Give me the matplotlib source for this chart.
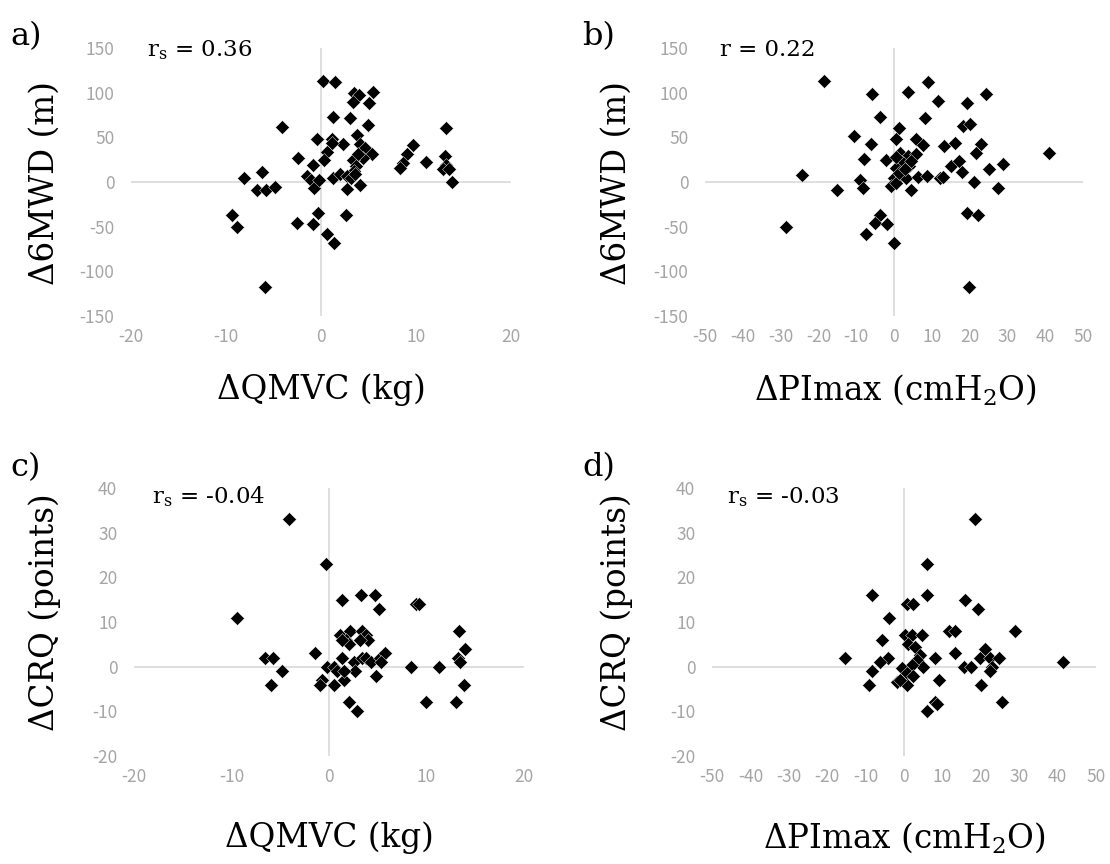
import matplotlib
matplotlib.use("Agg")
import matplotlib.pyplot as plt

# ---------------- data ----------------
qmvc_a = [0.2, 1.5, 5.5, 3.5, 4.0, 3.4, 5.0, 1.3, 3.1, 4.9, -4.1, 13.2, -0.4, 1.2, 3.8, 2.3,
          1.2, 4.1, 4.6, 5.4, 4.4, 3.4, 3.9, 3.7, 3.5, 9.7, 9.1, 8.6, 8.3, 11.1, 13.1, 13.2,
          12.8, 13.5, 13.8, -2.4, 0.6, 0.3, -0.8, -6.2, -8.1, -6.7, -5.8, -4.8, -1.5, -1.1,
          -0.7, -0.2, 1.3, 2.0, 2.7, 3.2, 3.6, 4.1, 2.7, -9.4, -8.8, -0.35, 2.6, -2.5, -0.8,
          0.6, 1.4, -5.9]
mwd_a = [113, 112, 101, 100, 97, 90, 88, 73, 72, 64, 62, 60, 48, 48, 53, 42,
         44, 42, 38, 31, 27, 25, 31, 18, 12, 41, 31, 21, 16, 22, 29, 19,
         15, 14, 0, 27, 34, 25, 19, 11, 4, -9, -9, -6, 7, 2,
         -7, 2, 5, 9, 7, 5, 9, -3, -8, -37, -50, -35, -37, -46, -47,
         -58, -68, -117]

pimax_b = [-18.4, -5.7, 3.7, 9.1, 11.7, 19.2, 24.4, -3.8, 8.1, 18.3, 20.0, 1.3, -10.7, -6.2,
           0.4, 5.9, 7.7, 13.2, 16.1, 23.1, 21.8, 41.0, -8.0, -2.0, 1.5, 3.7, 5.9, 2.4, 0.6,
           4.1, -0.1, 1.9, 3.3, -0.7, 0.6, 4.6, 6.4, 8.6, 12.1, 13.0, 15.2, 17.2, 18.1, 21.1,
           25.2, 28.9, 27.5, -24.4, -8.9, -8.2, -15.1, -3.8, -4.9, -1.9, -7.3, -0.1, -28.7,
           19.3, 22.3, 19.9, 1.2, 2.8, 0.5, 4.5]
mwd_b = [113, 98, 101, 112, 91, 88, 98, 73, 72, 63, 65, 61, 52, 42,
         48, 48, 41, 40, 44, 42, 32, 32, 26, 25, 32, 29, 31, 21, 16,
         18, 4, 8, 4, -5, -1, -9, 6, 7, 4, 6, 18, 23, 11, 0,
         15, 20, -7, 8, 2, -7, -9, -37, -46, -47, -58, -68, -50,
         -35, -37, -117, 10, 14, 28, 24]

qmvc_c = [-4.1, -0.3, -9.4, 1.3, 3.3, 4.7, 5.1, 8.9, 9.2, 13.3, 13.9, 13.2, 13.4, 13.8, 13.0,
          9.9, 8.4, 11.3, -6.6, -5.7, -4.8, -5.9, -1.4, -0.2, 0.55, -0.7, -0.9, 0.55, 1.5,
          2.1, 2.9, 1.3, 1.1, 2.2, 1.7, 2.0, 1.35, 3.4, 3.8, 4.0, 3.2, 2.55, 3.4, 3.8, 2.7,
          4.3, 4.8, 5.2, 5.7, 5.3, 0.8, 1.5]
crq_c = [33, 23, 11, 15, 16, 16, 13, 14, 14, 8, 4, 2, 1, -4, -8,
         -8, 0, 0, 2, 2, -1, -4, 3, 0, 0, -3, -4, -4, -3,
         -8, -10, 2, 7, 8, 6, 5, 6, 8, 7, 6, 6, 1, 2, 2, -1,
         1, -2, 2, 3, 1, -1, -1]

pimax_d = [18.5, 5.9, -8.3, 6.1, 0.7, 2.3, 16.0, 19.3, -4.0, 29.0, 11.6, 13.3, -5.7, -15.4,
           -4.1, -6.3, -8.3, -9.0, 41.3, 8.1, 13.3, 15.5, 17.4, 9.2, 20.0, 25.4, 8.1, 8.5,
           6.1, 21.2, 19.8, 22.4, 24.7, 22.9, 22.4, 0.3, 2.0, 4.8, 1.1, 2.9, 4.2, 3.3, 5.0,
           2.0, -0.6, 0.7, -1.9, 0.7, 2.4, -1.0]
crq_d = [33, 23, 16, 16, 14, 14, 15, 13, 11, 8, 8, 8, 6, 2,
         2, 1, -1, -4, 1, 2, 3, 0, 0, -3, -4, -8, -8, -8.3,
         -10, 4, 2, 2, 2, 0, -1, 7, 7, 7, 5, 4.5, 2.6, 1.5, 0,
         0.4, -0.4, -1.5, -3.4, -4, -2.2, -3]

ticks_qmvc = [-20, -10, 0, 10, 20]
ticks_pimax = [-50, -40, -30, -20, -10, 0, 10, 20, 30, 40, 50]
ticks_mwd = [-150, -100, -50, 0, 50, 100, 150]
ticks_crq = [-20, -10, 0, 10, 20, 30, 40]

# ---------------- style ----------------
plt.rcParams['axes.unicode_minus'] = False
plt.rcParams['mathtext.fontset'] = 'dejavuserif'
SERIF = ['DejaVu Serif']
TICKFONT = ['Noto Sans CJK JP', 'DejaVu Sans']
TICKCOL = '#a5a5a5'
LINECOL = '#d9d9d9'

W, H = 1110, 864
fig = plt.figure(figsize=(W / 100, H / 100), dpi=100)


def box(x0, x1, y_top, y_bot):
    return [x0 / W, 1 - y_bot / H, (x1 - x0) / W, (y_bot - y_top) / H]


def px(x, y):
    return x / W, 1 - y / H


panels = [
    dict(rect=box(131, 511, 48, 316), x=qmvc_a, y=mwd_a, xt=ticks_qmvc, yt=ticks_mwd,
         xl='ΔQMVC (kg)', yl='Δ6MWD (m)', lab='a)', labpos=(10, 37),
         ann=r'r$_\mathregular{s}$ = 0.36', annpos=(147, 50),
         xlpos=(321, 390), ylpos=(45, 183)),
    dict(rect=box(705, 1083, 48, 316), x=pimax_b, y=mwd_b, xt=ticks_pimax, yt=ticks_mwd,
         xl=r'ΔPImax (cmH$_\mathregular{2}$O)', yl='Δ6MWD (m)', lab='b)', labpos=(582, 37),
         ann='r = 0.22', annpos=(720, 50),
         xlpos=(895, 390), ylpos=(617, 183)),
    dict(rect=box(134, 524, 488, 756), x=qmvc_c, y=crq_c, xt=ticks_qmvc, yt=ticks_crq,
         xl='ΔQMVC (kg)', yl='ΔCRQ (points)', lab='c)', labpos=(10, 468),
         ann=r'r$_\mathregular{s}$ = -0.04', annpos=(152, 497),
         xlpos=(329, 838), ylpos=(45, 612)),
    dict(rect=box(712, 1096, 488, 756), x=pimax_d, y=crq_d, xt=ticks_pimax, yt=ticks_crq,
         xl=r'ΔPImax (cmH$_\mathregular{2}$O)', yl='ΔCRQ (points)', lab='d)', labpos=(582, 468),
         ann=r'r$_\mathregular{s}$ = -0.03', annpos=(727, 497),
         xlpos=(904, 838), ylpos=(617, 612)),
]

for p in panels:
    ax = fig.add_axes(p['rect'])
    ax.set_xlim(p['xt'][0], p['xt'][-1])
    ax.set_ylim(p['yt'][0], p['yt'][-1])
    for s in ax.spines.values():
        s.set_visible(False)
    ax.axhline(0, color=LINECOL, lw=1.2, zorder=1)
    ax.axvline(0, color=LINECOL, lw=1.2, zorder=1)
    ax.set_xticks(p['xt'])
    ax.set_yticks(p['yt'])
    ax.tick_params(axis='both', length=0, labelcolor=TICKCOL, labelsize=12.5)
    ax.tick_params(axis='y', pad=12)
    ax.tick_params(axis='x', pad=9)
    for t in ax.get_xticklabels() + ax.get_yticklabels():
        t.set_family(TICKFONT)
    ax.scatter(p['x'], p['y'], marker='D', s=50, c='black',
               edgecolors='white', linewidths=0.3, zorder=3, clip_on=False)

    fig.text(*px(*p['labpos']), p['lab'], family=SERIF, fontsize=23,
             ha='left', va='center')
    fig.text(*px(*p['annpos']), p['ann'], family=SERIF, fontsize=16.5,
             ha='left', va='center')
    fig.text(*px(*p['xlpos']), p['xl'], family=SERIF, fontsize=23.5,
             ha='center', va='center')
    fig.text(*px(*p['ylpos']), p['yl'], family=SERIF, fontsize=23.5,
             ha='center', va='center', rotation=90)

fig.savefig('out.png', dpi=100)
